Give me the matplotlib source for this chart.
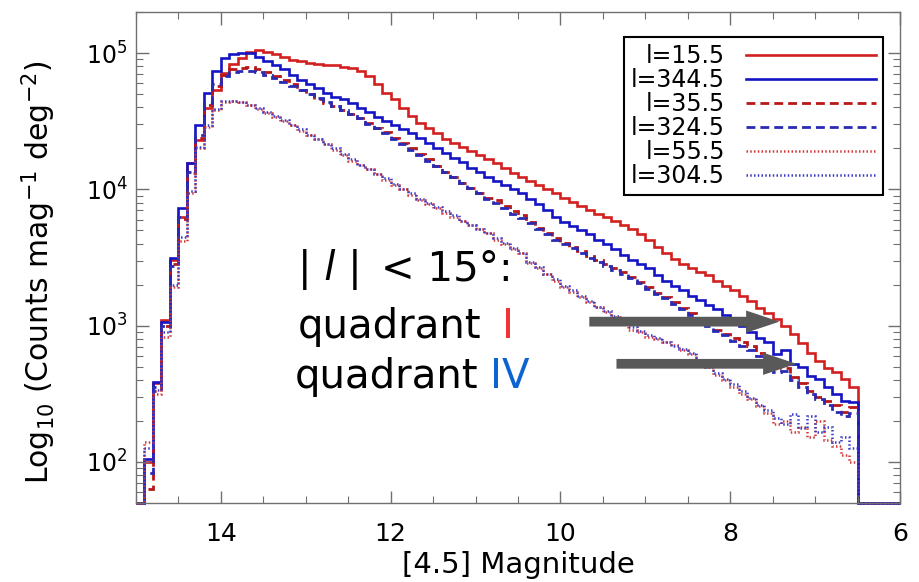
import numpy as np
import matplotlib
matplotlib.use("Agg")
import matplotlib.pyplot as plt
from matplotlib.ticker import MultipleLocator, LogLocator

# ---------------- DATA (log10 counts per 0.1 mag bin, 15.0 -> 6.0) ----------------
bin_edges = np.round(np.arange(15.0, 5.95, -0.1), 1)   # 91 edges, bright end first

# None = empty bin
log_l15 = [None, 2.00, 2.58, 3.04, 3.48, 3.80, 4.19, 4.36, 4.60, 4.73,
           4.85, 4.92, 4.96, 5.01, 5.02, 5.01, 4.99, 4.97, 4.95, 4.94,
           4.93, 4.92, 4.91, 4.91, 4.90, 4.89, 4.87, 4.83, 4.77, 4.71,
           4.66, 4.60, 4.54, 4.49, 4.45, 4.41, 4.37, 4.34, 4.31, 4.28,
           4.25, 4.22, 4.19, 4.16, 4.12, 4.09, 4.06, 4.03, 4.00, 3.97,
           3.94, 3.91, 3.88, 3.85, 3.82, 3.80, 3.77, 3.74, 3.71, 3.67,
           3.63, 3.58, 3.53, 3.49, 3.45, 3.42, 3.39, 3.37, 3.33, 3.29,
           3.26, 3.22, 3.18, 3.13, 3.09, 3.05, 3.00, 2.94, 2.87, 2.80,
           2.74, 2.69, 2.66, 2.61, 2.55, None, None, None, None, None]

log_l344 = [None, 2.02, 2.59, 3.03, 3.50, 3.86, 4.19, 4.47, 4.71, 4.87,
            4.96, 4.99, 5.00, 5.00, 4.97, 4.94, 4.91, 4.88, 4.84, 4.80,
            4.77, 4.74, 4.71, 4.68, 4.66, 4.63, 4.60, 4.57, 4.53, 4.50,
            4.47, 4.44, 4.41, 4.38, 4.34, 4.30, 4.27, 4.23, 4.20, 4.16,
            4.13, 4.09, 4.06, 4.03, 4.00, 3.97, 3.93, 3.89, 3.85, 3.80,
            3.76, 3.73, 3.70, 3.67, 3.63, 3.60, 3.56, 3.52, 3.48, 3.45,
            3.42, 3.37, 3.33, 3.29, 3.26, 3.22, 3.19, 3.15, 3.12, 3.08,
            3.05, 3.00, 2.95, 2.91, 2.88, 2.79, 2.82, 2.72, 2.70, 2.63,
            2.61, 2.55, 2.50, 2.45, 2.44, None, None, None, None, None]

log_l35 = [None, 1.80, 2.52, 3.00, 3.45, 3.78, 4.12, 4.38, 4.62, 4.76,
           4.84, 4.88, 4.89, 4.90, 4.88, 4.86, 4.83, 4.80, 4.77, 4.73,
           4.70, 4.66, 4.63, 4.61, 4.58, 4.55, 4.52, 4.49, 4.45, 4.42,
           4.38, 4.34, 4.30, 4.26, 4.22, 4.17, 4.13, 4.09, 4.05, 4.01,
           3.97, 3.94, 3.92, 3.88, 3.84, 3.81, 3.76, 3.72, 3.68, 3.64,
           3.61, 3.58, 3.55, 3.51, 3.48, 3.45, 3.42, 3.39, 3.36, 3.32,
           3.28, 3.24, 3.21, 3.17, 3.13, 3.09, 3.05, 3.01, 2.97, 2.94,
           2.91, 2.88, 2.85, 2.80, 2.76, 2.70, 2.69, 2.62, 2.58, 2.52,
           2.48, 2.45, 2.42, 2.37, 2.40, None, None, None, None, None]

log_l324 = [None, 1.92, 2.55, 3.00, 3.44, 3.80, 4.13, 4.40, 4.63, 4.77,
            4.83, 4.86, 4.87, 4.87, 4.86, 4.84, 4.82, 4.79, 4.76, 4.73,
            4.70, 4.67, 4.64, 4.61, 4.58, 4.55, 4.52, 4.48, 4.45, 4.41,
            4.37, 4.33, 4.29, 4.25, 4.21, 4.17, 4.13, 4.09, 4.05, 4.01,
            3.97, 3.93, 3.90, 3.86, 3.82, 3.79, 3.75, 3.71, 3.67, 3.63,
            3.60, 3.57, 3.53, 3.50, 3.47, 3.44, 3.41, 3.38, 3.35, 3.31,
            3.27, 3.23, 3.20, 3.16, 3.12, 3.08, 3.04, 3.00, 2.96, 2.93,
            2.89, 2.85, 2.82, 2.78, 2.73, 2.66, 2.67, 2.60, 2.55, 2.50,
            2.46, 2.42, 2.37, 2.34, 2.36, None, None, None, None, None]

log_l55 = [None, 2.15, 2.50, 2.92, 3.28, 3.62, 3.97, 4.30, 4.46, 4.58,
           4.64, 4.65, 4.64, 4.62, 4.59, 4.56, 4.53, 4.50, 4.47, 4.43,
           4.40, 4.37, 4.33, 4.29, 4.25, 4.21, 4.18, 4.15, 4.11, 4.07,
           4.03, 4.00, 3.96, 3.92, 3.89, 3.86, 3.83, 3.80, 3.77, 3.74,
           3.71, 3.68, 3.63, 3.60, 3.56, 3.53, 3.46, 3.42, 3.38, 3.33,
           3.28, 3.25, 3.21, 3.17, 3.14, 3.10, 3.06, 3.02, 2.97, 2.95,
           2.92, 2.90, 2.88, 2.86, 2.82, 2.79, 2.74, 2.70, 2.64, 2.60,
           2.55, 2.50, 2.46, 2.41, 2.36, 2.28, 2.30, 2.22, 2.26, 2.18,
           2.30, 2.16, 2.12, 2.05, 2.00, None, None, None, None, None]

log_l304 = [None, 2.10, 2.53, 2.95, 3.30, 3.65, 3.99, 4.31, 4.47, 4.59,
            4.65, 4.65, 4.64, 4.62, 4.60, 4.57, 4.54, 4.51, 4.47, 4.44,
            4.40, 4.37, 4.33, 4.30, 4.26, 4.22, 4.18, 4.15, 4.11, 4.08,
            4.04, 4.00, 3.97, 3.93, 3.90, 3.87, 3.84, 3.81, 3.77, 3.74,
            3.71, 3.68, 3.64, 3.61, 3.57, 3.53, 3.47, 3.43, 3.38, 3.34,
            3.29, 3.26, 3.22, 3.18, 3.14, 3.11, 3.07, 3.03, 2.99, 2.96,
            2.93, 2.91, 2.88, 2.85, 2.83, 2.80, 2.75, 2.70, 2.65, 2.61,
            2.57, 2.52, 2.47, 2.42, 2.38, 2.32, 2.28, 2.35, 2.25, 2.34,
            2.22, 2.26, 2.15, 2.18, 2.10, None, None, None, None, None]

labels = ["l=15.5", "l=344.5", "l=35.5", "l=324.5", "l=55.5", "l=304.5"]
series = [log_l15, log_l344, log_l35, log_l324, log_l55, log_l304]

# ---------------- STYLE ----------------
colors = ["#d21f1f", "#1414c4", "#b81818", "#2a2ab4", "#d23a3a", "#3a3ac8"]
styles = ["-", "-", (0, (3.2, 1.8)), (0, (3.2, 1.8)), (0, (0.6, 0.9)), (0, (0.6, 0.9))]
widths = [1.9, 1.9, 2.0, 2.0, 1.8, 1.8]

YMIN, YMAX = 50, 2.0e5

plt.rcParams["font.family"] = ["DejaVu Sans"]
fig = plt.figure(figsize=(9.19, 5.82), dpi=100)
ax = fig.add_axes([136 / 919, 1 - 503 / 582, 764 / 919, 491 / 582])

edges_up = bin_edges[::-1]
for vals, lab, c, ls, lw in zip(series, labels, colors, styles, widths):
    counts = np.array([0.0 if v is None else 10 ** v for v in vals])
    # IDL-style: empty bins sit on the floor of the plot
    counts = np.maximum(counts, YMIN)
    ax.stairs(counts[::-1], edges_up, baseline=None, color=c, linestyle=ls,
              linewidth=lw, label=lab, clip_on=False)

ax.set_yscale("log")
ax.set_ylim(YMIN, YMAX)
ax.set_xlim(15, 6)
ax.xaxis.set_major_locator(MultipleLocator(2))
ax.xaxis.set_minor_locator(MultipleLocator(0.5))
ax.yaxis.set_major_locator(LogLocator(base=10))
ax.yaxis.set_minor_locator(LogLocator(base=10, subs=np.arange(2, 10)))

for s in ax.spines.values():
    s.set_color("#707070")
    s.set_linewidth(1.0)
ax.tick_params(which="both", direction="in", top=True, right=True, color="#707070")
ax.tick_params(which="major", length=9, width=1.0)
ax.tick_params(which="minor", length=5, width=0.8)
ax.tick_params(axis="x", which="major", labelsize=18, pad=14)
ax.tick_params(axis="y", which="major", labelsize=17, pad=6)

ax.set_xlabel("[4.5] Magnitude", fontsize=21, labelpad=3)
ax.set_ylabel(r"Log$_{10}$ (Counts mag$^{-1}$ deg$^{-2}$)", fontsize=21.5)
ax.yaxis.set_label_coords(-0.102, 0.47)

leg = ax.legend(loc="upper right", bbox_to_anchor=(0.978, 0.949), borderaxespad=0,
                markerfirst=False, fontsize=17, handlelength=5.5, handletextpad=0.9,
                labelspacing=0.0, borderpad=0.3, fancybox=False, framealpha=1)
leg.get_frame().set_edgecolor("black")
leg.get_frame().set_linewidth(1.5)

# ---------------- ANNOTATION ----------------
def fx(px):
    return px / 919

def fy(py):
    return 1 - py / 582

fs = 29
fig.text(fx(298), fy(280), "| l |", fontsize=fs, style="italic", va="baseline")
fig.text(fx(381), fy(280), "< 15°:", fontsize=fs, va="baseline")
fig.text(fx(298), fy(338), "quadrant", fontsize=fs, va="baseline")
fig.text(fx(502), fy(338), "I", fontsize=fs, color="#f03434", va="baseline")
fig.text(fx(295), fy(388), "quadrant", fontsize=fs, va="baseline")
fig.text(fx(490), fy(388), "IV", fontsize=fs, color="#0b64d0", va="baseline")

arrow_style = "simple,head_length=2.4,head_width=1.6,tail_width=0.7"
for (x0, x1, y) in [(9.66, 7.42, 1070), (9.34, 7.22, 525)]:
    ax.annotate("", xy=(x1, y), xytext=(x0, y),
                arrowprops=dict(arrowstyle=arrow_style, color="#595959",
                                mutation_scale=10, shrinkA=0, shrinkB=0, lw=0))

fig.savefig("out.png", dpi=100)
